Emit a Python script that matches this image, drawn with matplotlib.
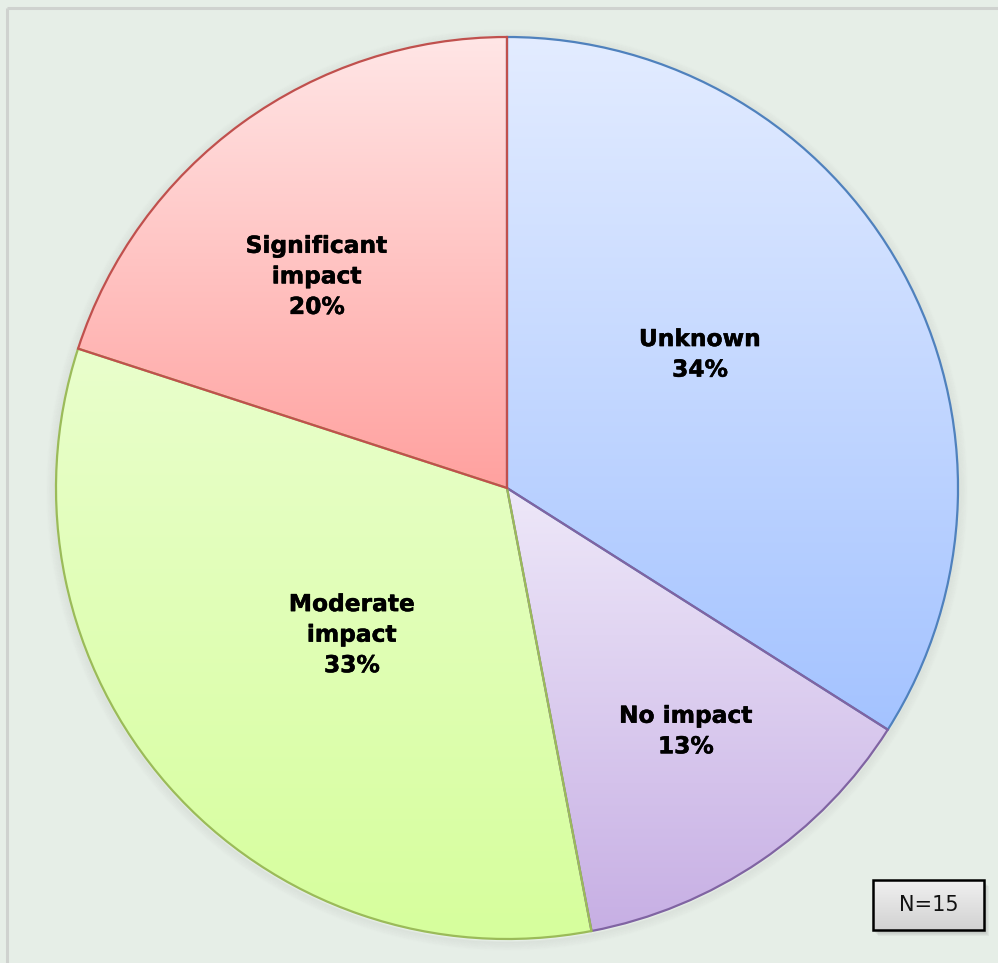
import numpy as np
import matplotlib
matplotlib.use("Agg")
import matplotlib.pyplot as plt
import matplotlib.patheffects as pe
from matplotlib.colors import LinearSegmentedColormap
from matplotlib.patches import Circle, Rectangle

# Survey results (N=15)
categories = ["Unknown", "No impact", "Moderate\nimpact", "Significant\nimpact"]
shares = [34, 13, 33, 20]
respondents = 15

edge_colors = ["#4f81bd", "#8064a2", "#9bbb59", "#c0504d"]
grad_top = ["#e3ecff", "#eee8f9", "#e9ffcc", "#ffe6e6"]
grad_bottom = ["#a4c3ff", "#c7afe4", "#d6fe9c", "#ffa19f"]
label_dist = [0.52, 0.67, 0.474, 0.63]
label_turn = [5.8, 2.1, 2.1, 6.0]   # degrees, counter-clockwise nudge

W, H = 998, 963
fig = plt.figure(figsize=(W / 100, H / 100), dpi=100)
fig.patch.set_facecolor("#e6eee7")
ax = fig.add_axes([0, 0, 1, 1])

# frame lines along top and left
ax.plot([7.5, W], [H - 7.5, H - 7.5], color="#cfd2cf", lw=2.2, solid_capstyle="butt")
ax.plot([7.5, 7.5], [0, H - 7.5], color="#cfd2cf", lw=2.2, solid_capstyle="butt")

cx, cy, R = 507, H - 488, 451

# soft shadow around the pie
for k in range(10):
    ax.add_patch(Circle((cx, cy - 2), R + 1 + k * 0.9, facecolor="none",
                        edgecolor="#808080", lw=1.2, alpha=0.06 * (1 - k / 10), zorder=1))

wedges, _ = ax.pie(shares, startangle=90, counterclock=False, radius=R,
                   center=(cx, cy), frame=True,
                   wedgeprops=dict(linewidth=1.6, zorder=4))

total = sum(shares)
ang = 90.0
for w, share, name, ec, top, bot, d, turn in zip(wedges, shares, categories, edge_colors,
                                                 grad_top, grad_bottom, label_dist, label_turn):
    w.set_facecolor("none")
    w.set_edgecolor(ec)
    verts = w.get_path().vertices
    x0, x1 = verts[:, 0].min(), verts[:, 0].max()
    y0, y1 = verts[:, 1].min(), verts[:, 1].max()
    cmap = LinearSegmentedColormap.from_list("g", [bot, top])
    grad = np.linspace(0, 1, 256).reshape(-1, 1)
    im = ax.imshow(grad, cmap=cmap, origin="lower", extent=[x0, x1, y0, y1],
                   aspect="auto", zorder=3, interpolation="bilinear")
    im.set_clip_path(w)
    sweep = 360.0 * share / total
    mid = np.deg2rad(ang - sweep / 2 + turn)
    ang -= sweep
    ax.text(cx + d * R * np.cos(mid), cy + d * R * np.sin(mid), f"{name}\n{share}%",
            ha="center", va="center", fontsize=16.8, fontweight="bold",
            family="DejaVu Sans", linespacing=1.42, zorder=6,
            path_effects=[pe.withStroke(linewidth=0.35, foreground="black")])

# sample size box
bx, by, bw, bh = 873, H - 930, 111, 50
for k in range(4):
    ax.add_patch(Rectangle((bx + 2 + k, by - 3 - k), bw, bh, facecolor="#7a7a7a",
                           edgecolor="none", alpha=0.08, zorder=5))
box_cmap = LinearSegmentedColormap.from_list("b", ["#d2d2d2", "#f0f0f0"])
ax.imshow(np.linspace(0, 1, 64).reshape(-1, 1), cmap=box_cmap, origin="lower",
          extent=[bx, bx + bw, by, by + bh], aspect="auto", zorder=6)
ax.add_patch(Rectangle((bx, by), bw, bh, facecolor="none", edgecolor="black",
                       lw=1.8, zorder=7))
ax.text(bx + bw / 2, by + bh / 2, f"N={respondents}", ha="center", va="center",
        fontsize=15, family="DejaVu Sans", color="#111111", zorder=8)

ax.set_xlim(0, W)
ax.set_ylim(0, H)
ax.set_aspect("equal")
ax.axis("off")
fig.savefig("out.png", dpi=100, facecolor=fig.get_facecolor())
